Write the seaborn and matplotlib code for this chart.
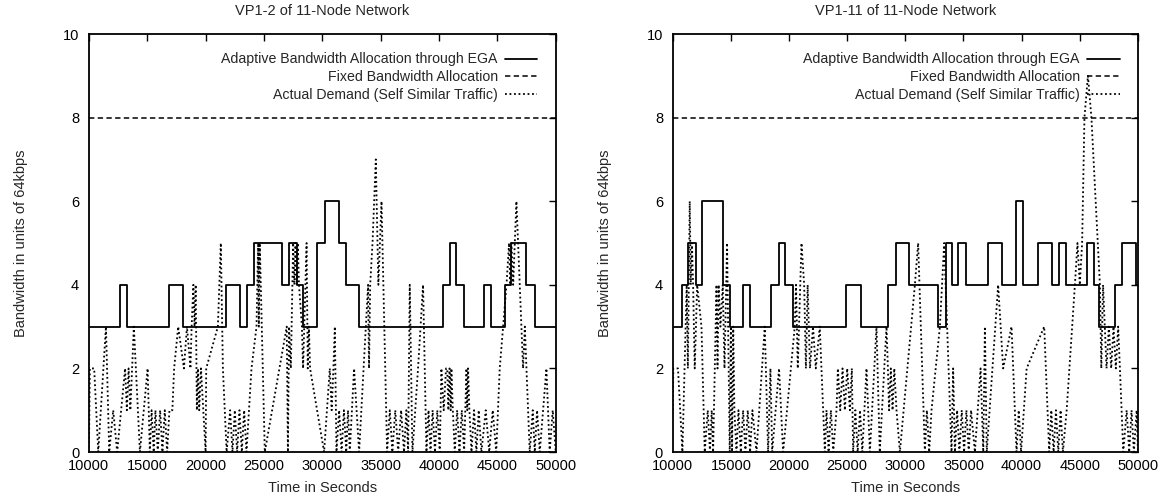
import numpy as np
import pandas as pd
import matplotlib
matplotlib.use("Agg")
import matplotlib.pyplot as plt
import seaborn as sns

# ---- data ----
# EGA allocation (step changes, value holds until next time)
ega1_t = [10000, 12650, 13230, 16880, 18080, 21730, 22930, 23510, 24130, 26530, 27130,
          27790, 28360, 29560, 30210, 31390, 31990, 33130, 40350, 40920, 41490, 42120,
          43860, 44430, 45630, 46200, 47490, 48200, 50000]
ega1_bw = [3, 4, 3, 4, 3, 4, 3, 4, 5, 4, 5, 4, 3, 5, 6, 5, 4, 3, 4, 5, 4, 3, 4, 3, 4, 5, 4, 3, 3]

ega2_t = [10000, 10800, 11320, 11980, 12520, 14330, 14900, 16050, 16680, 18490, 19140,
          19690, 20300, 24940, 26170, 28520, 29160, 30300, 32820, 33460, 33970, 34540,
          35200, 37070, 38270, 39480, 40130, 41370, 42580, 43180, 43780, 45640, 46240,
          46650, 48020, 48650, 49850, 50000]
ega2_bw = [3, 4, 5, 4, 6, 4, 3, 4, 3, 4, 5, 4, 3, 4, 3, 4, 5, 4, 3, 5, 4, 5, 4, 5, 4, 6,
           4, 5, 4, 5, 4, 5, 4, 3, 4, 5, 4, 4]

fixed_t = [10000, 50000]
fixed_bw = [8, 8]

# actual demand (self similar traffic)
dem1_t = [10000, 10080, 10450, 10800, 11460, 11740, 12080, 12420, 13100, 13250, 13400,
          13550, 13700, 13850, 14370, 15030, 15220, 15370, 15550, 15700, 15900, 16100,
          16300, 16500, 16700, 16900, 17150, 17300, 17650, 18140, 18400, 18700, 18800,
          18950, 19050, 19150, 19250, 19350, 19450, 19600, 20000, 20050, 21050, 21300,
          21480, 21800, 22100, 22300, 22500, 22700, 22900, 23100, 23300, 23500, 23930,
          24360, 24500, 24560, 24640, 25070, 26950, 27050, 27150, 27300, 27500, 27600,
          27700, 27800, 27900, 28000, 28250, 28350, 28450, 28550, 28650, 28750, 28850,
          28950, 30150, 30640, 30800, 30950, 31070, 31210, 31440, 31650, 31850, 32050,
          32200, 32350, 32720, 33150, 33920, 34000, 34100, 34300, 34580, 34800, 35070,
          35550, 35780, 36000, 36250, 36500, 36750, 37000, 37200, 37350, 37490, 37720,
          38200, 38630, 38920, 39100, 39270, 39450, 39650, 39850, 40060, 40200, 40400,
          40600, 40700, 40800, 40900, 41000, 41060, 41180, 41350, 41550, 41750, 41950,
          42150, 42350, 42420, 42490, 42600, 42780, 43000, 43200, 43400, 43630, 44000,
          44300, 44600, 44900, 45200, 45780, 46000, 46100, 46200, 46350, 46630, 47200,
          47350, 47770, 48030, 48200, 48400, 48630, 49200, 49480, 49740, 50000]
dem1_bw = [0, 2, 2, 0, 3, 0, 1, 0, 2, 1, 2,
           1, 2, 3, 0, 2, 0, 1, 0, 1, 0, 1,
           0, 1, 0, 1, 1, 2, 3, 2, 3, 2, 3,
           4, 3, 4, 1, 2, 1, 2, 0, 2, 3, 5,
           2, 0, 1, 0, 1, 0, 1, 0, 1, 0, 2,
           3, 5, 3, 5, 0, 3, 0, 3, 2, 5, 4,
           5, 4, 5, 4, 3, 2, 3, 4, 5, 2, 3,
           2, 0, 2, 1, 2, 3, 0, 1, 0, 1, 0,
           1, 0, 2, 0, 4, 2, 4, 5, 7, 4, 6,
           0, 1, 0, 1, 0, 1, 0, 1, 0, 4, 0,
           2, 4, 0, 1, 0, 1, 0, 1, 0, 2, 1,
           2, 2, 1, 2, 1, 2, 1, 0, 1, 0, 1,
           0, 2, 1, 2, 1, 0, 1, 0, 1, 0, 1,
           0, 1, 0, 2, 4, 5, 4, 5, 4, 6, 2,
           3, 0, 1, 0, 1, 0, 2, 0, 1, 0]

dem2_t = [10000, 10050, 10450, 10830, 11200, 11300, 11460, 11550, 11650, 11750, 11890,
          12100, 12470, 12750, 13010, 13200, 13350, 13470, 13760, 13850, 13950, 14100,
          14300, 14450, 14670, 14900, 15000, 15100, 15200, 15300, 15480, 15650, 15850,
          16050, 16250, 16450, 16650, 16850, 17200, 17910, 18200, 18400, 18550, 19140,
          19490, 20490, 20600, 20750, 21070, 21300, 21450, 21600, 21800, 22060, 22300,
          22640, 23080, 23220, 23400, 23600, 23800, 24080, 24200, 24400, 24600, 24800,
          25000, 25230, 25400, 25510, 25700, 25900, 26100, 26300, 26660, 26950, 27520,
          27800, 28380, 28500, 28600, 28750, 28900, 29050, 29240, 29530, 30820, 31100,
          31680, 31850, 32050, 32250, 32970, 33340, 33970, 34110, 34260, 34450, 34650,
          34850, 35050, 35250, 35450, 35650, 35980, 36470, 36700, 36840, 37000, 37980,
          38410, 39130, 39560, 39750, 39950, 40430, 41940, 42370, 42550, 42750, 42950,
          43150, 43350, 43550, 43870, 44580, 44800, 45000, 45200, 45400, 45700, 46000,
          46730, 46850, 47000, 47300, 47500, 47700, 47900, 48100, 48300, 48450, 48740,
          49030, 49250, 49450, 49650, 49890, 50000]
dem2_bw = [1, 2, 2, 0, 4, 2, 6, 4, 5, 4, 2,
           4, 3, 0, 1, 0, 1, 0, 4, 2, 4, 3,
           4, 2, 5, 0, 3, 0, 3, 1, 0, 1, 0,
           1, 0, 1, 0, 1, 0, 3, 0, 2, 0, 2,
           0, 3, 4, 2, 5, 4, 2, 4, 2, 3, 2,
           3, 0, 1, 0, 1, 0, 1, 2, 1, 2, 1,
           2, 1, 2, 0, 1, 0, 1, 0, 2, 0, 3,
           0, 3, 2, 1, 2, 1, 2, 1, 0, 4, 5,
           0, 1, 0, 1, 3, 5, 0, 2, 0, 1, 0,
           1, 0, 1, 0, 1, 0, 2, 0, 3, 0, 4,
           2, 3, 0, 1, 0, 2, 3, 0, 1, 0, 1,
           0, 1, 0, 1, 4, 5, 4, 5, 8, 9, 8,
           4, 2, 4, 2, 3, 2, 3, 2, 3, 2, 0,
           1, 0, 1, 0, 1, 0]

titles = ["VP1-2 of 11-Node Network", "VP1-11 of 11-Node Network"]
lbl_ega = "Adaptive Bandwidth Allocation through EGA"
lbl_fix = "Fixed Bandwidth Allocation"
lbl_dem = "Actual Demand (Self Similar Traffic)"

sns.set_style("white")
plt.rcParams['font.family'] = ['Liberation Sans Narrow', 'Liberation Sans', 'DejaVu Sans']
plt.rcParams['font.size'] = 10

fig = plt.figure(figsize=(11.7, 4.97), dpi=100)
ax1 = fig.add_axes([0.076, 0.0905, 0.399, 0.841])
ax2 = fig.add_axes([0.575, 0.0905, 0.3976, 0.841])

panels = [(ax1, titles[0], ega1_t, ega1_bw, dem1_t, dem1_bw),
          (ax2, titles[1], ega2_t, ega2_bw, dem2_t, dem2_bw)]

for ax, title, et, ev, dt, dv in panels:
    sns.lineplot(x=et, y=ev, ax=ax, color='black', lw=1.3, drawstyle='steps-post',
                 estimator=None, sort=False, label=lbl_ega)
    sns.lineplot(x=fixed_t, y=fixed_bw, ax=ax, color='black', lw=1.1,
                 linestyle=(0, (3.5, 2.2)), estimator=None, sort=False, label=lbl_fix)
    sns.lineplot(x=dt, y=dv, ax=ax, color='black', lw=1.3,
                 linestyle=(0, (1, 1.5)), estimator=None, sort=False, label=lbl_dem)

    ax.set_xlim(10000, 50000)
    ax.set_ylim(0, 10)
    ax.set_xticks(np.arange(10000, 50001, 5000))
    ax.set_yticks(np.arange(0, 11, 2))
    ax.tick_params(direction='in', length=5, width=1, top=True, right=True,
                   labelsize=10.5, colors='black')
    ax.tick_params(axis='x', pad=5)
    ax.tick_params(axis='y', pad=7)
    for s in ax.spines.values():
        s.set_color('black')
        s.set_linewidth(1.3)
    ax.set_title(title, fontsize=10.5, pad=14)
    ax.set_xlabel("Time in Seconds", fontsize=10.5, labelpad=6)
    ax.set_ylabel("Bandwidth in units of 64kbps", fontsize=10.5, labelpad=25)
    ax.legend(loc='upper right', frameon=False, markerfirst=False, fontsize=10.2,
              handlelength=2.3, handletextpad=0.5, labelspacing=0.28,
              borderaxespad=0.9)

fig.savefig("out.png", dpi=100)
